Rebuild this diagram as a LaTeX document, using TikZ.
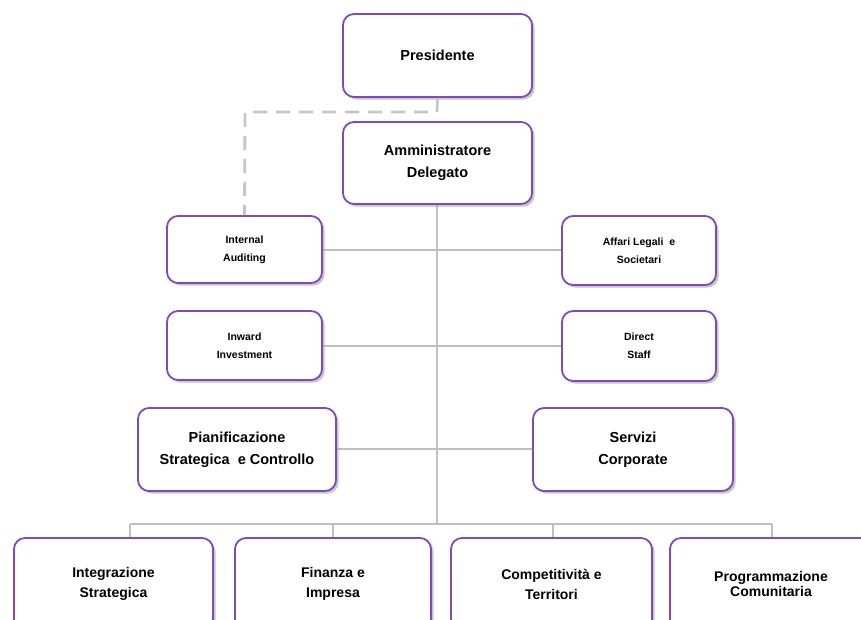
\documentclass[tikz,border=0pt]{standalone}
\usepackage{fontspec}
\setmainfont{Liberation Sans}
\usetikzlibrary{shadows}
\definecolor{boxpurple}{RGB}{130,72,190}
\definecolor{linegray}{RGB}{192,192,192}
\tikzset{
  orgbox/.style={draw=boxpurple, line width=1.8pt, fill=white, rounded corners=11pt,
    align=center, inner sep=2pt,
    drop shadow={shadow xshift=2.5pt, shadow yshift=-2.5pt, fill=black!40, opacity=0.55}},
  bigtext/.style={font=\fontsize{14.5}{22}\selectfont\bfseries},
  midtext/.style={font=\fontsize{14}{20}\selectfont\bfseries},
  smalltext/.style={font=\fontsize{10.5}{18}\selectfont\bfseries},
  conn/.style={draw=linegray, line width=2pt},
  thinconn/.style={draw=linegray, line width=1.5pt},
  dashconn/.style={draw=linegray!90!white, line width=2.8pt, dash pattern=on 14pt off 9pt}
}
\begin{document}
\begin{tikzpicture}[x=1pt,y=-1pt]
\clip (0,0) rectangle (861,619);
\fill[white] (0,0) rectangle (861,619);
% coordinates
\coordinate (trunkend) at (437,524);
\coordinate (barL) at (130,524);
\coordinate (barR) at (772,524);
\coordinate (bar2) at (333,524);
\coordinate (bar3) at (553,524);
\coordinate (dashA) at (437,112);
\coordinate (dashB) at (245,112);
% connectors (behind boxes)
\path[conn] (437,163) -- (trunkend);
\path[thinconn] (barL) -- (barR);
\path[conn] (244,250) -- (639,250);
\path[conn] (244,346) -- (639,346);
\path[conn] (237,449) -- (633,449);
% nodes
\node[orgbox, bigtext, minimum width=189pt, minimum height=83pt] (pres) at (437.5,55.5) {Presidente};
\node[orgbox, bigtext, minimum width=189pt, minimum height=82pt] (ad) at (437.5,163) {Amministratore\\Delegato};
\node[orgbox, smalltext, minimum width=155pt, minimum height=67pt] (ia) at (244.5,249.5) {Internal\\Auditing};
\node[orgbox, smalltext, minimum width=154pt, minimum height=69pt] (al) at (639,250.5) {Affari Legali \ e\\Societari};
\node[orgbox, smalltext, minimum width=155pt, minimum height=69pt] (ii) at (244.5,345.5) {Inward\\Investment};
\node[orgbox, smalltext, minimum width=154pt, minimum height=70pt] (ds) at (639,346) {Direct\\Staff};
\node[orgbox, bigtext, minimum width=198pt, minimum height=83pt] (psc) at (237,449.5) {Pianificazione\\Strategica \ e Controllo};
\node[orgbox, bigtext, minimum width=200pt, minimum height=83pt] (sc) at (633,449.5) {Servizi\\Corporate};
\node[orgbox, midtext, minimum width=199pt, minimum height=92pt] (b1) at (113.5,584) {Integrazione\\Strategica};
\node[orgbox, midtext, minimum width=196pt, minimum height=92pt] (b2) at (333,584) {Finanza e\\Impresa};
\node[orgbox, midtext, minimum width=201pt, minimum height=92pt] (b3) at (551.5,584) {Competitività e\\Territori};
\node[orgbox, midtext, minimum width=202pt, minimum height=92pt, font=\fontsize{14}{15}\selectfont\bfseries] (b4) at (771,584) {Programmazione\\Comunitaria};
% drops to bottom boxes
\path[thinconn] (barL) -- (barL |- b1.north);
\path[thinconn] (bar2) -- (b2.north);
\path[thinconn] (bar3) -- (bar3 |- b3.north);
\path[thinconn] (barR) -- (barR |- b4.north);
% dashed link
\path[dashconn] (pres.south) -- (dashA) -- (dashB) -- (ia.north);
\end{tikzpicture}
\end{document}
